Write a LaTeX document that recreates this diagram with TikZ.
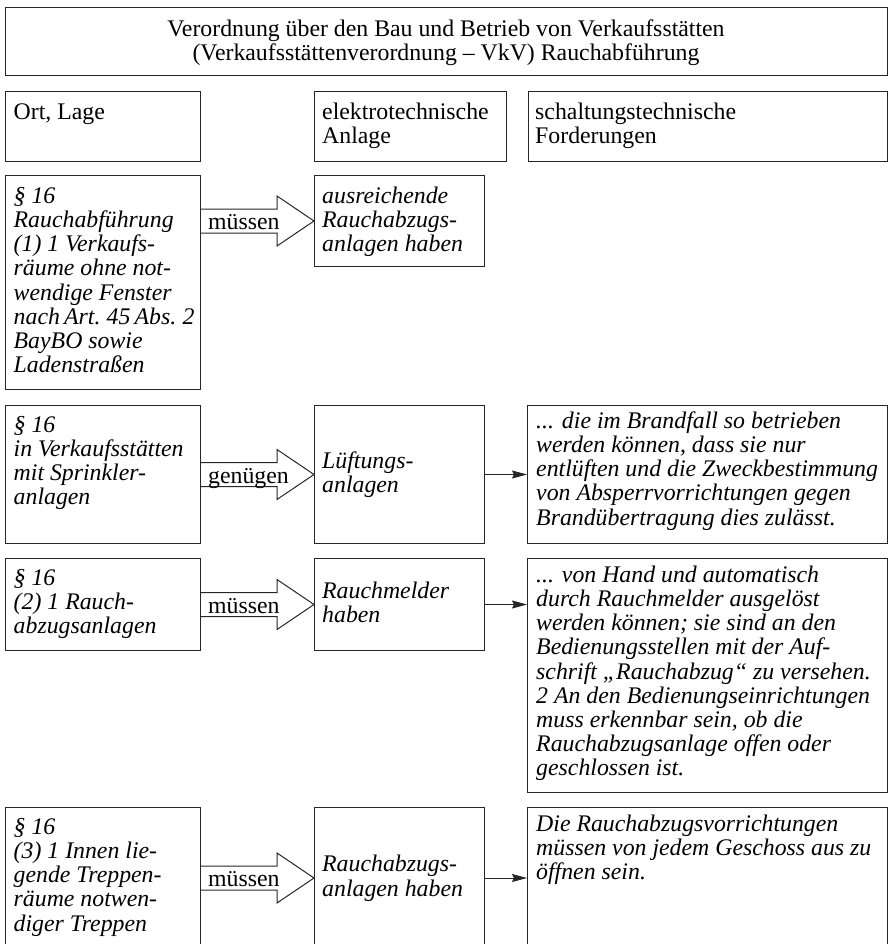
\documentclass[tikz,border=0pt]{standalone}
\usepackage{fontspec}
\setmainfont{Liberation Serif}
\usetikzlibrary{calc,arrows.meta}
\newcommand{\fb}[1]{\rule{0pt}{#1pt}}
\newcommand{\ld}{\rule[-6pt]{0pt}{6pt}}
\newcommand{\myBigArrow}[3]{%
  \coordinate (bt) at (#2.west);
  \coordinate (bs) at (#1.east |- #2.west);
  \draw[bigarr] ($(bs)+(0,-12)$) -- ($(bt)+(-37,-12)$) -- ($(bt)+(-37,-25)$) -- (bt)
     -- ($(bt)+(-37,25)$) -- ($(bt)+(-37,12)$) -- ($(bs)+(0,12)$);
  \node[lbl] at ($(bs)+(7,8.5)$) {#3};}
\begin{document}
\begin{tikzpicture}[x=1pt,y=-1pt,
  box/.style={draw=black!85, line width=1pt, anchor=north west, inner sep=0pt},
  txt/.style={anchor=north west, align=left, inner sep=0pt, font=\fontsize{23.8}{24.2}\selectfont},
  itxt/.style={anchor=north west, align=left, inner sep=0pt, font=\fontsize{23.8}{24.2}\selectfont\itshape},
  bigarr/.style={draw=black!85, line width=1pt, line join=miter},
  smallarr/.style={draw=black!85, line width=1pt, -{Stealth[length=15pt,width=8pt,inset=2pt]}},
  lbl/.style={anchor=base west, inner sep=0pt, font=\fontsize{23.8}{24.2}\selectfont}]
\useasboundingbox (0,0) rectangle (889,944);

% title
\node[box, minimum width=882pt, minimum height=68pt] (title) at (4.5,7) {};
\node[txt, anchor=north, align=center] (titletxt) at (title.north)
  {\fb{29}Verordnung über den Bau und Betrieb von Verkaufsstätten\\(Verkaufsstättenverordnung – VkV) Rauchabführung};

% header
\node[box, minimum width=195.5pt, minimum height=70pt] (h1) at (4.5,91) {};
\node[box, minimum width=192pt, minimum height=70pt] (h2) at (314,91) {};
\node[box, minimum width=358.5pt, minimum height=70pt] (h3) at (528,91) {};
\node[txt] (h1t) at ($(h1.north west)+(9,0)$) {\fb{28}Ort, Lage};
\node[txt] (h2t) at ($(h2.north west)+(8,0)$) {\fb{28}elektrotechnische\\Anlage};
\node[txt] (h3t) at ($(h3.north west)+(7,0)$) {\fb{28}schaltungstechnische\\Forderungen};

% row 1
\node[box, minimum width=195.5pt, minimum height=214pt] (l1) at (4.5,175) {};
\node[box, minimum width=170pt, minimum height=91pt] (m1) at (314,175) {};
\node[itxt] (l1t) at ($(l1.north west)+(9,0)$)
  {\fb{28}§ 16\\Rauchabführung\\(1) 1 Verkaufs-\\räume ohne not-\\wendige Fenster\\{\spaceskip=4.2pt nach Art. 45 Abs. 2}\\BayBO sowie\\Ladenstraßen};
\node[itxt] (m1t) at ($(m1.north west)+(8,0)$) {\fb{28}ausreichende\\Rauchabzugs-\\anlagen haben};
\myBigArrow{l1}{m1}{müssen}

% row 2
\node[box, minimum width=195.5pt, minimum height=138pt] (l2) at (4.5,405) {};
\node[box, minimum width=170pt, minimum height=138pt] (m2) at (314,405) {};
\node[box, minimum width=359.5pt, minimum height=138pt] (r2) at (527,405) {};
\node[itxt] (l2t) at ($(l2.north west)+(9,0)$) {\fb{27}§ 16\\in Verkaufsstätten\\mit Sprinkler-\\anlagen};
\node[itxt, anchor=west] (m2t) at ($(m2.west)+(8,0)$) {\fb{18}Lüftungs-\\anlagen\ld};
\node[itxt] (r2t) at ($(r2.north west)+(9,0)$)
  {\fb{23}... die im Brandfall so betrieben\\werden können, dass sie nur\\entlüften und die Zweckbestimmung\\von Absperrvorrichtungen gegen\\Brandübertragung dies zulässt.};
\myBigArrow{l2}{m2}{genügen}
\draw[smallarr] (m2.east) -- (r2.west |- m2.east);

% row 3
\node[box, minimum width=195.5pt, minimum height=92pt] (l3) at (4.5,558) {};
\node[box, minimum width=170pt, minimum height=92pt] (m3) at (314,558) {};
\node[box, minimum width=359.5pt, minimum height=234pt] (r3) at (527,558) {};
\node[itxt] (l3t) at ($(l3.north west)+(9,0)$) {\fb{27}§ 16\\(2) 1 Rauch-\\abzugsanlagen};
\node[itxt, anchor=west] (m3t) at ($(m3.west)+(8,0)$) {\fb{18}Rauchmelder\\haben\ld};
\node[itxt] (r3t) at ($(r3.north west)+(9,0)$)
  {\fb{24}... von Hand und automatisch\\durch Rauchmelder ausgelöst\\werden können; sie sind an den\\Bedienungsstellen mit der Auf-\\schrift „Rauchabzug“ zu versehen.\\2 An den Bedienungseinrichtungen\\muss erkennbar sein, ob die\\Rauchabzugsanlage offen oder\\geschlossen ist.};
\myBigArrow{l3}{m3}{müssen}
\draw[smallarr] (m3.east) -- (r3.west |- m3.east);

% row 4
\node[box, minimum width=195.5pt, minimum height=141pt] (l4) at (4.5,807) {};
\node[box, minimum width=170pt, minimum height=141pt] (m4) at (314,807) {};
\node[box, minimum width=359.5pt, minimum height=141pt] (r4) at (527,807) {};
\node[itxt] (l4t) at ($(l4.north west)+(9,0)$) {\fb{27}§ 16\\(3) 1 Innen lie-\\gende Treppen-\\räume notwen-\\diger Treppen};
\node[itxt, anchor=west] (m4t) at ($(m4.west)+(8,0)$) {\fb{18}Rauchabzugs-\\anlagen haben\ld};
\node[itxt] (r4t) at ($(r4.north west)+(9,0)$)
  {\fb{24}Die Rauchabzugsvorrichtungen\\müssen von jedem Geschoss aus zu\\öffnen sein.};
\myBigArrow{l4}{m4}{müssen}
\draw[smallarr] (m4.east) -- (r4.west |- m4.east);
\end{tikzpicture}
\end{document}
